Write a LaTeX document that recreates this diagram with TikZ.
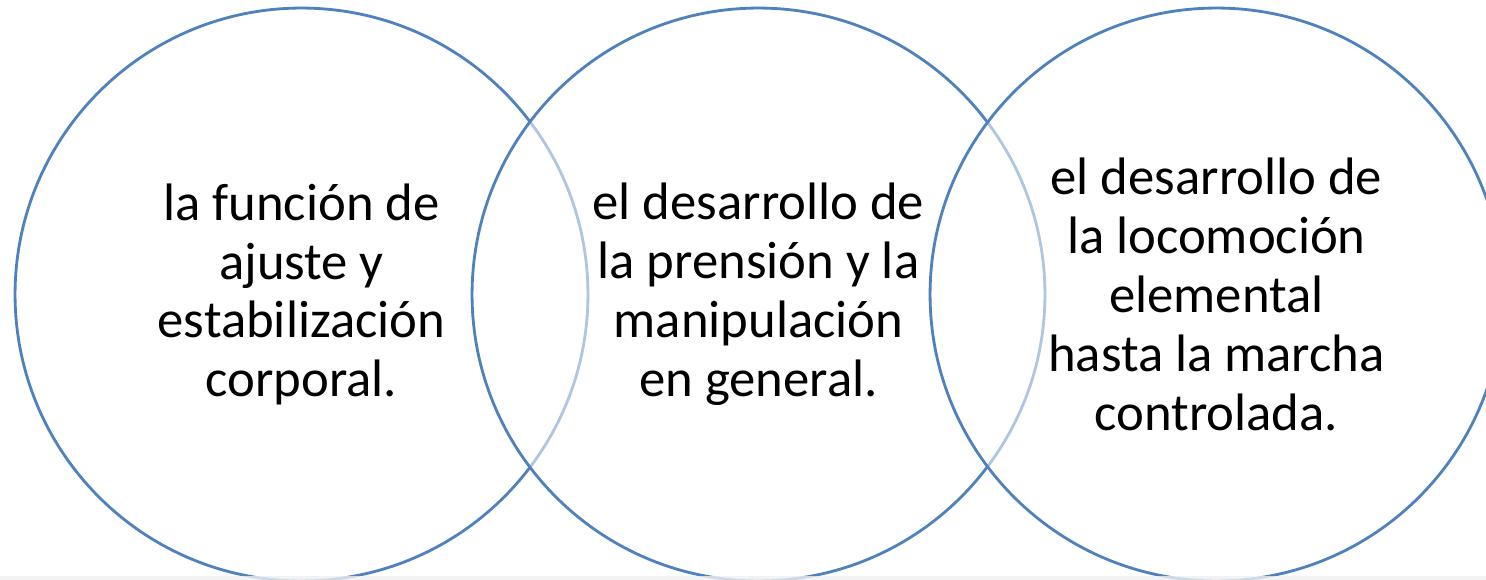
\documentclass[tikz,border=0pt]{standalone}
\usepackage{fontspec}
\setmainfont{Carlito}
\definecolor{ringblue}{RGB}{79,129,189}

\begin{document}
\begin{tikzpicture}[x=0.02cm, y=-0.02cm]
    \tikzset{
        ring/.style={circle, draw=ringblue, line width=1.6pt, fill=white, fill opacity=0.55, text opacity=1,
            minimum size=11.46cm, inner sep=0pt, align=center, font=\fontsize{30}{33.5}\selectfont}
    }
    \useasboundingbox (0,0) rectangle (1486,580);
    % circles
    \node[ring] (left) at (301.5,294.5){la función de\\ajuste y\\estabilización\\corporal.};
    \node[ring] (middle) at (758.5,294.5){el desarrollo de\\la prensión y la\\manipulación\\en general.};
    \node[ring] (right) at (1216.5,294.5){el desarrollo de\\la locomoción\\elemental\\hasta la marcha\\controlada.};

    % bottom strip
    \fill[black!6, opacity=0.8] (0,576) rectangle (1486,580);
\end{tikzpicture}
\end{document}
